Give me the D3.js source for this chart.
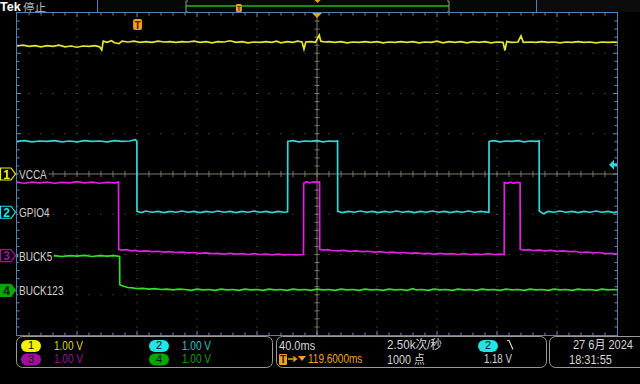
<!DOCTYPE html>
<html><head><meta charset="utf-8">
<script src="https://cdn.jsdelivr.net/npm/d3@7"></script>
<style>
html,body{margin:0;padding:0;background:#000;}
svg{display:block;}
text{font-family:"Liberation Sans","Noto Sans CJK SC",sans-serif;}
</style></head>
<body>
<svg id="c" width="640" height="384"></svg>
<script>
// ---------- data (time in ms relative to screen centre, volts) ----------
const channelNames = ["VCCA", "GPIO4", "BUCK5", "BUCK123"];
const channelPositions = [0, -0.95, -2.03, -2.89];   // ground marker position, divisions
const channelScales = ["1.00 V", "1.00 V", "1.00 V", "1.00 V"];
const timeRange = [-200, 200];
const timeDiv = "40.0ms";
const sampleRate = "2.50k次/秒";
const recordLength = "1000 点";
const triggerDelay = "119.6000ms";
const triggerTime = -119.6;
const triggerLevel = "1.18 V";
const triggerLevelV = 1.18;
const dateText = "27 6月 2024";
const timeText = "18:31:55";

const ch1 = [[-200,3.18],[-196,3.20],[-192,3.17],[-188,3.19],[-184,3.16],[-180,3.19],[-176,3.17],[-172,3.20],[-168,3.16],[-164,3.18],[-160,3.15],[-156,3.18],[-152,3.17],[-148,3.19],[-145,3.16],[-143.5,3.08],[-142.5,3.30],[-140,3.27],[-137,3.31],[-135,3.26],[-132,3.24],[-130,3.30],[-126,3.28],[-122,3.30],[-118,3.27],[-114,3.29],[-110,3.27],[-106,3.30],[-102,3.28],[-98,3.29],[-94,3.27],[-90,3.29],[-86,3.28],[-82,3.30],[-78,3.27],[-74,3.29],[-70,3.26],[-66,3.29],[-62,3.28],[-58,3.31],[-54,3.27],[-50,3.29],[-46,3.26],[-42,3.28],[-38,3.27],[-34,3.29],[-30,3.27],[-27,3.30],[-24,3.26],[-20,3.29],[-16,3.27],[-13,3.30],[-10,3.28],[-8.7,3.10],[-7.5,3.28],[-4,3.29],[-1,3.27],[1.5,3.45],[2.5,3.30],[5,3.28],[8,3.29],[12,3.27],[16,3.29],[20,3.26],[24,3.28],[28,3.27],[32,3.29],[36,3.27],[40,3.29],[44,3.26],[48,3.28],[52,3.27],[56,3.29],[60,3.27],[64,3.29],[68,3.26],[72,3.28],[76,3.27],[80,3.30],[84,3.26],[88,3.29],[92,3.27],[96,3.29],[100,3.26],[104,3.29],[108,3.27],[112,3.29],[116,3.26],[120,3.28],[124,3.27],[125.3,3.07],[126.5,3.29],[130,3.27],[134,3.28],[136,3.43],[137.5,3.27],[142,3.28],[146,3.27],[150,3.29],[154,3.27],[158,3.28],[162,3.26],[166,3.28],[170,3.27],[174,3.29],[178,3.27],[182,3.28],[186,3.26],[190,3.28],[194,3.27],[198,3.28],[200,3.27]];

const ch2 = [[-200,1.76],[-195,1.78],[-190,1.75],[-185,1.77],[-180,1.76],[-175,1.78],[-170,1.75],[-165,1.77],[-160,1.75],[-155,1.78],[-150,1.76],[-145,1.77],[-140,1.75],[-135,1.78],[-130,1.76],[-125,1.77],[-121,1.80],[-120.1,1.76],[-120,0.02],[-117,-0.01],[-114,0.03],[-110,0.00],[-106,0.02],[-102,-0.01],[-98,0.02],[-94,0.00],[-90,0.03],[-86,0.00],[-82,0.02],[-78,-0.01],[-74,0.02],[-70,0.00],[-66,0.03],[-62,0.00],[-58,0.02],[-54,-0.01],[-50,0.02],[-46,0.00],[-42,0.03],[-38,0.00],[-34,0.02],[-30,-0.01],[-26,0.02],[-22,0.00],[-19.6,0.01],[-19.5,1.76],[-16,1.78],[-12,1.75],[-8,1.77],[-4,1.76],[0,1.78],[4,1.75],[8,1.77],[12,1.76],[13.7,1.77],[13.8,0.02],[17,-0.01],[21,0.02],[25,0.00],[29,0.03],[33,0.00],[37,0.02],[41,-0.01],[45,0.02],[49,0.00],[53,0.03],[57,0.00],[61,0.02],[65,-0.01],[69,0.02],[73,0.00],[77,0.03],[81,0.00],[85,0.02],[89,-0.01],[93,0.02],[97,0.00],[101,0.03],[105,0.00],[109,0.02],[114.6,0.00],[114.7,1.76],[118,1.78],[122,1.75],[126,1.77],[130,1.76],[134,1.78],[138,1.75],[142,1.77],[146,1.76],[148.1,1.77],[148.2,0.03],[151,-0.04],[154,0.02],[158,0.00],[162,0.03],[166,0.00],[170,0.02],[174,-0.01],[178,0.02],[182,0.00],[186,0.03],[190,0.00],[194,0.02],[198,-0.01],[200,0.01]];

const ch3 = [[-200,1.82],[-195,1.80],[-190,1.83],[-185,1.81],[-180,1.83],[-175,1.80],[-170,1.82],[-165,1.81],[-160,1.84],[-155,1.81],[-150,1.83],[-145,1.80],[-140,1.82],[-135,1.81],[-132.3,1.83],[-132.2,0.16],[-130,0.14],[-127,0.15],[-124,0.12],[-121,0.13],[-118,0.11],[-114,0.12],[-110,0.10],[-106,0.11],[-102,0.09],[-98,0.10],[-94,0.08],[-90,0.09],[-86,0.07],[-82,0.08],[-78,0.06],[-74,0.07],[-70,0.05],[-66,0.06],[-62,0.04],[-58,0.06],[-54,0.04],[-50,0.05],[-46,0.03],[-42,0.05],[-38,0.03],[-34,0.04],[-30,0.02],[-26,0.04],[-22,0.02],[-18,0.03],[-14,0.02],[-9,0.03],[-8.9,1.80],[-7,1.84],[-5,1.81],[-3,1.83],[0,1.82],[1.7,1.83],[1.8,0.16],[4,0.14],[7,0.15],[10,0.13],[14,0.12],[18,0.13],[22,0.11],[26,0.12],[30,0.10],[34,0.11],[38,0.09],[42,0.10],[46,0.08],[50,0.09],[54,0.07],[58,0.08],[62,0.06],[66,0.07],[70,0.05],[74,0.06],[78,0.04],[82,0.06],[86,0.04],[90,0.05],[94,0.03],[98,0.05],[102,0.03],[106,0.04],[110,0.03],[114,0.05],[118,0.03],[122,0.04],[124.8,0.03],[124.9,1.82],[127,1.80],[129,1.83],[131,1.80],[133,1.82],[135.4,1.81],[135.5,0.16],[138,0.14],[141,0.15],[144,0.13],[148,0.14],[152,0.12],[156,0.13],[160,0.11],[164,0.12],[168,0.10],[172,0.11],[176,0.08],[180,0.09],[184,0.07],[188,0.08],[192,0.05],[196,0.06],[200,0.04]];

const ch4 = [[-200,0.85],[-195,0.86],[-190,0.84],[-185,0.87],[-180,0.85],[-175,0.86],[-170,0.84],[-165,0.86],[-160,0.85],[-155,0.87],[-150,0.84],[-145,0.86],[-140,0.85],[-135,0.86],[-131.6,0.84],[-131.5,0.14],[-129,0.10],[-126,0.07],[-123,0.06],[-120,0.04],[-116,0.05],[-112,0.03],[-108,0.04],[-104,0.02],[-100,0.03],[-96,0.01],[-92,0.03],[-88,0.02],[-84,0.00],[-80,0.03],[-76,0.01],[-72,0.02],[-68,0.00],[-64,0.03],[-60,0.01],[-56,0.02],[-52,0.00],[-48,0.03],[-44,0.01],[-40,0.02],[-36,0.00],[-32,0.03],[-28,0.01],[-24,0.02],[-20,0.00],[-16,0.03],[-12,0.01],[-8,0.02],[-4,0.00],[0,0.03],[4,0.01],[8,0.02],[12,0.00],[16,0.03],[20,0.01],[24,0.02],[28,0.00],[32,0.03],[36,0.01],[40,0.02],[44,0.00],[48,0.03],[52,0.01],[56,0.02],[60,0.00],[64,0.04],[66,0.01],[70,0.02],[74,0.00],[78,0.03],[82,0.01],[86,0.02],[90,0.00],[94,0.03],[98,0.01],[102,0.02],[106,0.00],[110,0.03],[114,0.01],[118,0.02],[122,0.00],[126,0.03],[130,0.01],[134,0.02],[138,0.00],[142,0.03],[146,0.01],[150,0.02],[154,0.00],[158,0.03],[162,0.01],[166,0.02],[170,0.00],[174,0.03],[178,0.01],[182,0.02],[186,0.00],[190,0.03],[194,0.01],[198,0.02],[200,0.01]];

const traces = [ch1, ch2, ch3, ch4];

// ---------- style ----------
const traceColors = ["#e6e62c", "#2fd8d8", "#de22de", "#30e024"];
const badgeColors = ["#f2f200", "#22e4e4", "#a010a0", "#00a800"];
const scaleTextColors = ["#d8d800", "#22c8c8", "#9a109a", "#10a010"];
const borderBlue = "#4f82b8";
const orange = "#f0a020";

const svg = d3.select("#c");
const plot = {x0: 17, x1: 617, y0: 13, y1: 335};
const x = d3.scaleLinear().domain(timeRange).range([plot.x0, plot.x1]);
const yDiv = d3.scaleLinear().domain([-4, 4]).range([plot.y1, plot.y0]);
const xMinor = (plot.x1 - plot.x0) / 50, yMinor = (plot.y1 - plot.y0) / 40;

// condensed text helper
function ntext(parent, tx, ty, str, fill, size, anchor, sx) {
  const grp = parent.append("g").attr("transform", `translate(${tx},${ty}) scale(${sx || 0.77},1)`);
  grp.append("text").attr("x", 0).attr("y", 0).attr("text-anchor", anchor || "start")
    .attr("fill", fill).style("font-size", (size || 13) + "px").text(str);
  return grp;
}

// ---------- header ----------
svg.append("text").attr("x", 0).attr("y", 11).attr("fill", "#ffffff")
  .style("font-weight", "bold").style("font-size", "12.5px").text("Tek");
svg.append("text").attr("x", 23).attr("y", 12).attr("fill", "#b8b8b8")
  .style("font-family", "Noto Sans CJK SC, sans-serif").style("font-size", "11.5px").text("停止");
svg.append("rect").attr("x", 537).attr("y", 0).attr("width", 103).attr("height", 12).attr("fill", "#0c0c0c");
svg.append("rect").attr("x", 97.5).attr("y", -1).attr("width", 439).attr("height", 13.5)
  .attr("fill", "#050805").attr("stroke", borderBlue);
const brk = d3.scaleLinear().domain(timeRange).range([186, 449]);
svg.append("line").attr("x1", brk(-200)).attr("x2", brk(200)).attr("y1", 6).attr("y2", 6)
  .attr("stroke", "#1a8a1a").attr("stroke-width", 2);
[brk(-200), brk(200)].forEach((bx, i) => {
  svg.append("path").attr("d", i === 0 ? `M${bx+2},1H${bx}V12H${bx+2}` : `M${bx-2},1H${bx}V12H${bx-2}`)
    .attr("fill", "none").attr("stroke", "#9a9a8a");
});
svg.append("rect").attr("x", brk(triggerTime) - 3).attr("y", 4).attr("width", 6).attr("height", 8).attr("rx", 1.5).attr("fill", orange);
svg.append("text").attr("x", brk(triggerTime)).attr("y", 11).attr("text-anchor", "middle").attr("fill", "#5a3000")
  .style("font-size", "7px").style("font-weight", "bold").text("T");
svg.append("path").attr("d", `M${brk(0)-3},0L${brk(0)+3},0L${brk(0)},3Z`).attr("fill", orange);

// ---------- graticule ----------
const g = svg.append("g");
for (let i = 1; i < 10; i++) {
  if (i === 5) continue;
  const gx = plot.x0 + i * 60;
  for (let k = 1; k < 40; k++) g.append("rect").attr("x", gx - 0.5).attr("y", plot.y0 + k * yMinor - 0.5).attr("width", 1).attr("height", 1).attr("fill", "#6a6a6a");
}
for (let j = 1; j < 8; j++) {
  if (j === 4) continue;
  const gy = yDiv(4 - j);
  for (let k = 1; k < 50; k++) g.append("rect").attr("x", plot.x0 + k * xMinor - 0.5).attr("y", gy - 0.5).attr("width", 1).attr("height", 1).attr("fill", "#6a6a6a");
}
const cx = x(0), cy = yDiv(0);
const centreCol = "#7e7866";
g.append("line").attr("x1", cx).attr("x2", cx).attr("y1", plot.y0).attr("y2", plot.y1).attr("stroke", centreCol);
g.append("line").attr("x1", plot.x0).attr("x2", plot.x1).attr("y1", cy).attr("y2", cy).attr("stroke", centreCol);
for (let k = 1; k < 40; k++) {
  const ty = plot.y0 + k * yMinor;
  g.append("line").attr("x1", cx - 2.5).attr("x2", cx + 2.5).attr("y1", ty).attr("y2", ty).attr("stroke", centreCol);
}
for (let k = 1; k < 50; k++) {
  const tx = plot.x0 + k * xMinor;
  g.append("line").attr("x1", tx).attr("x2", tx).attr("y1", cy - 3).attr("y2", cy + 3).attr("stroke", centreCol);
}
for (let k = 1; k < 50; k++) {
  const tx = plot.x0 + k * xMinor, len = (k % 5 === 0) ? 4 : 2.5;
  g.append("line").attr("x1", tx).attr("x2", tx).attr("y1", plot.y0).attr("y2", plot.y0 + len).attr("stroke", "#8a8a8a");
  g.append("line").attr("x1", tx).attr("x2", tx).attr("y1", plot.y1).attr("y2", plot.y1 - len).attr("stroke", "#8a8a8a");
}
for (let k = 1; k < 40; k++) {
  const ty = plot.y0 + k * yMinor, len = (k % 5 === 0) ? 4 : 2.5;
  g.append("line").attr("x1", plot.x0).attr("x2", plot.x0 + len).attr("y1", ty).attr("y2", ty).attr("stroke", "#8a8a8a");
  g.append("line").attr("x1", plot.x1).attr("x2", plot.x1 - len).attr("y1", ty).attr("y2", ty).attr("stroke", "#8a8a8a");
}
g.append("rect").attr("x", plot.x0 - 0.5).attr("y", plot.y0 - 0.5).attr("width", plot.x1 - plot.x0 + 1).attr("height", plot.y1 - plot.y0 + 1)
  .attr("fill", "none").attr("stroke", borderBlue);

// ---------- traces ----------
traces.forEach((data, i) => {
  const line = d3.line().x(d => x(d[0])).y(d => yDiv(channelPositions[i] + d[1]));
  svg.append("path").datum(data).attr("d", line).attr("fill", "none")
    .attr("stroke", traceColors[i]).attr("stroke-width", 1.7).attr("stroke-linejoin", "miter");
});

// ---------- channel labels / ground markers ----------
channelNames.forEach((name, i) => {
  const my = yDiv(channelPositions[i]);
  const filled = i === 3;
  const lg = ntext(svg, 19, my + 4.8, name, "#d0d0d0", 13);
  const bb = lg.select("text").node().getBBox();
  lg.insert("rect", "text").attr("x", bb.x - 1).attr("y", bb.y).attr("width", bb.width + 3).attr("height", bb.height).attr("fill", "#000");
  svg.append("path").attr("d", `M0.5,${my-6}H11L15.5,${my}L11,${my+6}H0.5Z`)
    .attr("fill", filled ? badgeColors[i] : "#000").attr("stroke", badgeColors[i]).attr("stroke-width", 1.2);
  svg.append("text").attr("x", 6.5).attr("y", my + 4.5).attr("text-anchor", "middle")
    .attr("fill", filled ? "#0a200a" : badgeColors[i]).style("font-weight", "bold").style("font-size", "12px").text(i + 1);
});

// trigger markers
svg.append("path").attr("d", `M${x(0)-5},${plot.y0}L${x(0)+5},${plot.y0}L${x(0)},${plot.y0+5}Z`).attr("fill", orange);
svg.append("rect").attr("x", x(triggerTime) - 4.5).attr("y", 19).attr("width", 9).attr("height", 11).attr("rx", 2).attr("fill", orange);
svg.append("text").attr("x", x(triggerTime)).attr("y", 28.5).attr("text-anchor", "middle").attr("fill", "#4a2800")
  .style("font-weight", "bold").style("font-size", "10px").text("T");
const tly = yDiv(channelPositions[1] + triggerLevelV);
svg.append("path").attr("d", `M${plot.x1-8},${tly}L${plot.x1-3},${tly-5}V${tly-1.5}H${plot.x1}V${tly+1.5}H${plot.x1-3}V${tly+5}Z`).attr("fill", traceColors[1]);

// ---------- status bar ----------
const sb = svg.append("g");
const boxes = [[16.5, 272.5], [276.5, 546.5], [549.5, 650]];
boxes.forEach(b => sb.append("rect").attr("x", b[0]).attr("y", 336.5).attr("width", b[1] - b[0]).attr("height", 31)
  .attr("rx", 6).attr("fill", "#000").attr("stroke", "#9a9a9a"));
const rows = [349.5, 363];
const badgePos = [[21, 0], [149, 0], [21, 1], [149, 1]];
badgePos.forEach((p, i) => {
  sb.append("rect").attr("x", p[0]).attr("y", rows[p[1]] - 9.5).attr("width", 20).attr("height", 12).attr("rx", 6).attr("fill", badgeColors[i]);
  sb.append("text").attr("x", p[0] + 10).attr("y", rows[p[1]] - 0.5).attr("text-anchor", "middle").attr("fill", "#111")
    .style("font-size", "11px").text(i + 1);
  ntext(sb, p[0] + 33, rows[p[1]], channelScales[i], scaleTextColors[i]);
});
const wt = "#d6d6d6";
ntext(sb, 279, rows[0], timeDiv, wt, 13, "start", 0.85);
ntext(sb, 387, rows[0] - 0.5, sampleRate, wt, 12, "start", 0.97);
sb.append("rect").attr("x", 478).attr("y", rows[0] - 9.5).attr("width", 20).attr("height", 12).attr("rx", 6).attr("fill", badgeColors[1]);
sb.append("text").attr("x", 488).attr("y", rows[0] - 0.5).attr("text-anchor", "middle").attr("fill", "#111")
  .style("font-size", "11px").text("2");
sb.append("path").attr("d", `M507,${rows[0]-9}L509,${rows[0]-9}L513,${rows[0]}`).attr("fill", "none").attr("stroke", wt).attr("stroke-width", 1.2);
sb.append("rect").attr("x", 279).attr("y", rows[1] - 9).attr("width", 8).attr("height", 11).attr("rx", 1).attr("fill", orange);
sb.append("text").attr("x", 283).attr("y", rows[1]).attr("text-anchor", "middle").attr("fill", "#3a2000")
  .style("font-weight", "bold").style("font-size", "10px").text("T");
sb.append("path").attr("d", `M288,${rows[1]-4}H296M293,${rows[1]-6.5}L296.5,${rows[1]-4}L293,${rows[1]-1.5}`).attr("fill", "none").attr("stroke", orange).attr("stroke-width", 1.3);
sb.append("path").attr("d", `M298,${rows[1]-7}H306L302,${rows[1]-2}Z`).attr("fill", orange);
ntext(sb, 308, rows[1], triggerDelay, orange);
ntext(sb, 387, rows[1] + 0.5, recordLength, wt, 12, "start", 0.9);
ntext(sb, 484, rows[1], triggerLevel, wt, 12.5);
ntext(sb, 633, rows[0] - 0.5, dateText, wt, 12, "end", 0.92);
ntext(sb, 569, rows[1] + 0.5, timeText, wt, 13, "start", 0.85);
</script>
</body></html>
